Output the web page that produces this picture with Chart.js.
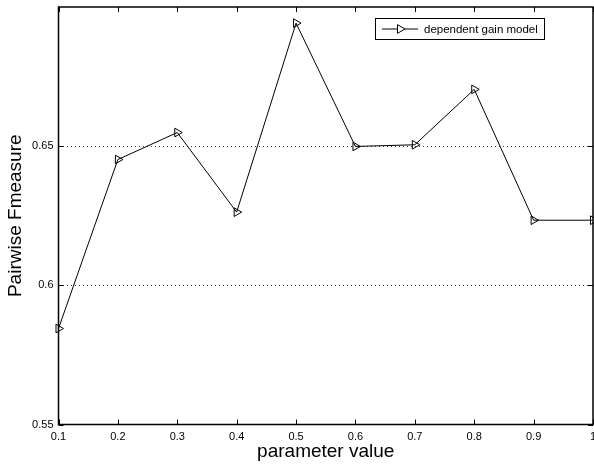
<!DOCTYPE html>
<html lang="en">
<head>
<meta charset="UTF-8">
<title>Pairwise Fmeasure vs parameter value</title>
<script src="https://cdn.jsdelivr.net/npm/chart.js"></script>
<style>
  html, body { margin: 0; padding: 0; background: #fff; }
  #wrap { width: 594px; height: 466px; }
</style>
</head>
<body>
<div id="wrap"><canvas id="chartCanvas"></canvas></div>
<script>
// data
const paramValues = [0.1, 0.2, 0.3, 0.4, 0.5, 0.6, 0.7, 0.8, 0.9, 1.0];
const fmeasure = [0.5845, 0.6452, 0.6549, 0.6263, 0.6942, 0.6499, 0.6505, 0.6704, 0.6234, 0.6234];
const seriesName = "dependent gain model";
const xTicks = [0.1, 0.2, 0.3, 0.4, 0.5, 0.6, 0.7, 0.8, 0.9, 1];
const yTicks = [0.55, 0.6, 0.65];

const FONT = "'Liberation Sans', Arial, Helvetica, sans-serif";

// frame + inward tick marks + legend box (matlab look)
const matlabAxes = {
  id: "matlabAxes",
  afterDatasetsDraw(chart) {
    const ctx = chart.ctx;
    const a = chart.chartArea;
    const xs = chart.scales.x, ys = chart.scales.y;
    const tl = 5;
    ctx.save();
    ctx.strokeStyle = "#000";
    ctx.lineWidth = 1;
    ctx.setLineDash([]);
    ctx.beginPath();
    xTicks.forEach(function(v) {
      const px = Math.round(xs.getPixelForValue(v)) + 0.5;
      ctx.moveTo(px, a.bottom); ctx.lineTo(px, a.bottom - tl);
      ctx.moveTo(px, a.top); ctx.lineTo(px, a.top + tl);
    });
    yTicks.forEach(function(v) {
      const py = Math.round(ys.getPixelForValue(v)) + 0.5;
      ctx.moveTo(a.left, py); ctx.lineTo(a.left + tl, py);
      ctx.moveTo(a.right, py); ctx.lineTo(a.right - tl, py);
    });
    ctx.stroke();
    ctx.lineWidth = 1.5;
    ctx.strokeRect(a.left, a.top, a.right - a.left, a.bottom - a.top);

    // legend
    const ds = chart.data.datasets[0];
    const lx = 375, ly = 18, lw = 169, lh = 21;
    ctx.fillStyle = "#fff";
    ctx.fillRect(lx, ly, lw, lh);
    ctx.lineWidth = 1;
    ctx.strokeRect(lx + 0.5, ly + 0.5, lw, lh);
    const cy = ly + lh / 2 + 0.5;
    ctx.beginPath();
    ctx.moveTo(382, cy); ctx.lineTo(418, cy);
    ctx.stroke();
    Chart.helpers.drawPoint(ctx, {
      pointStyle: ds.pointStyle, rotation: ds.pointRotation,
      radius: ds.pointRadius, borderWidth: 1
    }, 400, cy);
    ctx.fillStyle = "#000";
    ctx.font = "11.5px " + FONT;
    ctx.textBaseline = "middle";
    ctx.textAlign = "left";
    ctx.fillText(ds.label, 424, cy + 0.5);
    ctx.restore();
  }
};

const ctx = document.getElementById("chartCanvas").getContext("2d");
new Chart(ctx, {
  type: "line",
  data: {
    datasets: [{
      label: seriesName,
      data: paramValues.map(function(x, i) { return { x: x, y: fmeasure[i] }; }),
      borderColor: "#000",
      borderWidth: 1,
      backgroundColor: "rgba(0,0,0,0)",
      pointStyle: "triangle",
      pointRotation: 90,
      pointRadius: 5,
      pointBorderWidth: 1,
      pointBorderColor: "#000",
      pointBackgroundColor: "rgba(0,0,0,0)",
      tension: 0,
      clip: false
    }]
  },
  options: {
    responsive: true,
    maintainAspectRatio: false,
    animation: false,
    layout: { autoPadding: false, padding: { top: 7, right: 1, left: 0, bottom: 0 } },
    plugins: { legend: { display: false }, tooltip: { enabled: false } },
    scales: {
      x: {
        type: "linear",
        min: 0.1, max: 1,
        afterBuildTicks: function(s) { s.ticks = xTicks.map(function(v) { return { value: v }; }); },
        afterFit: function(s) { s.height = 41.5; s.paddingLeft = 0; s.paddingRight = 0; },
        grid: { display: false, drawTicks: false },
        border: { display: false },
        ticks: {
          color: "#000", padding: 6, maxRotation: 0, autoSkip: false,
          font: { family: FONT, size: 11 },
          callback: function(v) { return String(v); }
        },
        title: {
          display: true, text: "parameter value", color: "#000",
          font: { family: FONT, size: 19 }, padding: { top: 0, bottom: 3 }
        }
      },
      y: {
        type: "linear",
        min: 0.55, max: 0.7,
        afterBuildTicks: function(s) { s.ticks = yTicks.map(function(v) { return { value: v }; }); },
        afterFit: function(s) { s.width = 58.5; s.paddingTop = 0; s.paddingBottom = 0; },
        grid: {
          drawTicks: false,
          lineWidth: 1,
          color: function(c) { return (c.tick && c.tick.value > 0.56) ? "#444" : "rgba(0,0,0,0)"; }
        },
        border: { display: false, dash: [1, 3] },
        ticks: {
          color: "#000", padding: 5,
          font: { family: FONT, size: 11 },
          callback: function(v) { return String(v); }
        },
        title: {
          display: true, text: "Pairwise Fmeasure", color: "#000",
          font: { family: FONT, size: 19 }, padding: { top: 4, bottom: 0 }
        }
      }
    }
  },
  plugins: [matlabAxes]
});
</script>
</body>
</html>
